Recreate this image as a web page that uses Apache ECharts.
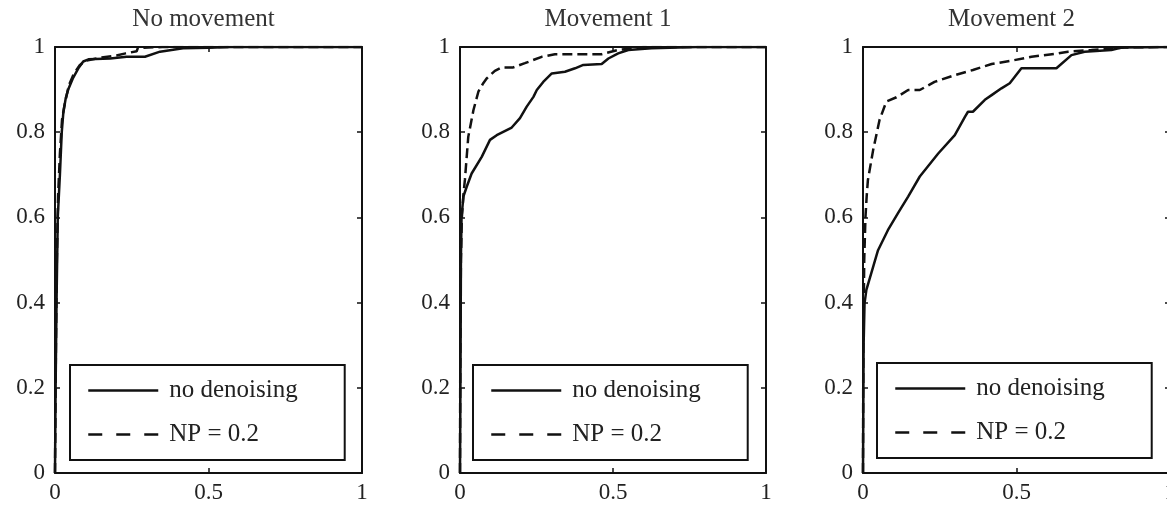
<!DOCTYPE html>
<html>
<head>
<meta charset="utf-8">
<title>ROC curves</title>
<script src="https://cdn.jsdelivr.net/npm/echarts@6/dist/echarts.min.js"></script>
<style>
  html, body { margin: 0; padding: 0; background: #fff; }
  #chart { width: 1167px; height: 508px; }
</style>
</head>
<body>
<div id="chart"></div>
<script>
// panel titles and legend names
var panelTitles = ['No movement', 'Movement 1', 'Movement 2'];
var seriesNames = ['no denoising', 'NP = 0.2'];
var xTicks = [0, 0.5, 1];
var yTicks = [0, 0.2, 0.4, 0.6, 0.8, 1];

// [false positive rate, true positive rate]
var noMoveRaw = [
    [0, 0], [0.002, 0.2], [0.005, 0.4], [0.009, 0.6], [0.016, 0.7], [0.022, 0.8],
    [0.027, 0.845], [0.035, 0.88], [0.043, 0.9], [0.058, 0.926], [0.076, 0.95],
    [0.092, 0.966], [0.109, 0.971], [0.18, 0.973], [0.233, 0.977], [0.293, 0.977],
    [0.342, 0.989], [0.417, 0.997], [0.5, 0.998], [0.57, 1], [1, 1]
];
var noMoveNP = [
    [0, 0], [0.003, 0.3], [0.006, 0.5], [0.01, 0.65], [0.016, 0.75], [0.023, 0.83],
    [0.03, 0.86], [0.045, 0.91], [0.06, 0.935], [0.08, 0.957], [0.1, 0.968],
    [0.15, 0.975], [0.2, 0.98], [0.23, 0.985], [0.266, 0.99], [0.27, 0.998],
    [0.35, 1], [1, 1]
];
var move1Raw = [
    [0, 0], [0.001, 0.15], [0.002, 0.3], [0.003, 0.5], [0.005, 0.6], [0.011, 0.649],
    [0.022, 0.672], [0.038, 0.703], [0.071, 0.742], [0.098, 0.782], [0.12, 0.793],
    [0.169, 0.811], [0.196, 0.833], [0.218, 0.86], [0.24, 0.883], [0.251, 0.899],
    [0.272, 0.918], [0.3, 0.938], [0.343, 0.942], [0.376, 0.95], [0.403, 0.958],
    [0.463, 0.96], [0.485, 0.973], [0.517, 0.985], [0.55, 0.993], [0.626, 0.997],
    [0.773, 1], [1, 1]
];
var move1NP = [
    [0, 0], [0.001, 0.3], [0.003, 0.5], [0.006, 0.6], [0.012, 0.66], [0.016, 0.688],
    [0.027, 0.789], [0.044, 0.852], [0.06, 0.895], [0.076, 0.915], [0.087, 0.926],
    [0.114, 0.944], [0.136, 0.952], [0.174, 0.952], [0.212, 0.962], [0.267, 0.977],
    [0.31, 0.983], [0.463, 0.983], [0.517, 0.993], [0.52, 0.997], [0.6, 1], [1, 1]
];
var move2Raw = [
    [0, 0], [0.002, 0.3], [0.005, 0.398], [0.011, 0.43], [0.033, 0.484], [0.049, 0.523],
    [0.081, 0.57], [0.114, 0.61], [0.147, 0.649], [0.185, 0.696], [0.245, 0.75],
    [0.299, 0.793], [0.332, 0.836], [0.342, 0.848], [0.358, 0.848], [0.397, 0.876],
    [0.419, 0.887], [0.451, 0.903], [0.478, 0.915], [0.516, 0.95], [0.63, 0.95],
    [0.679, 0.981], [0.722, 0.989], [0.809, 0.993], [0.842, 0.999], [1, 1]
];
var move2NP = [
    [0, 0], [0.001, 0.3], [0.004, 0.5], [0.008, 0.6], [0.012, 0.65], [0.016, 0.688],
    [0.033, 0.758], [0.054, 0.829], [0.076, 0.872], [0.109, 0.882], [0.147, 0.899],
    [0.185, 0.899], [0.233, 0.918], [0.299, 0.934], [0.358, 0.946], [0.419, 0.96],
    [0.484, 0.968], [0.549, 0.977], [0.636, 0.985], [0.668, 0.989], [0.744, 0.993],
    [0.853, 0.999], [1, 1]
];

var panelData = [[noMoveRaw, noMoveNP], [move1Raw, move1NP], [move2Raw, move2NP]];

var font = 'Liberation Serif';
var ink = '#111';

// plot boxes, in pixels
var gridBoxes = [
    { left: 55, top: 47, width: 307, height: 426 },
    { left: 460, top: 47, width: 306, height: 426 },
    { left: 863, top: 47, width: 307, height: 426 }
];
var legendBoxes = [
    { left: 70, top: 365 },
    { left: 473, top: 365 },
    { left: 877, top: 363 }
];

var chart = echarts.init(document.getElementById('chart'));

function axisBase(pos, gridIndex, interval, showLabel) {
    return {
        type: 'value',
        gridIndex: gridIndex,
        position: pos,
        min: 0,
        max: 1,
        interval: interval,
        axisLine: { show: true, onZero: false, lineStyle: { color: ink, width: 2 } },
        axisTick: { show: true, inside: true, length: 5, lineStyle: { color: ink, width: 1.5 } },
        splitLine: { show: false },
        axisLabel: {
            show: showLabel,
            fontFamily: font,
            fontSize: 23,
            color: '#222',
            margin: pos === 'left' ? 10 : 8,
            formatter: function (v) { return String(v); }
        }
    };
}

var opt = {
    animation: false,
    backgroundColor: '#fff',
    title: [],
    grid: [],
    xAxis: [],
    yAxis: [],
    legend: [],
    series: []
};

for (var i = 0; i < 3; i++) {
    var gb = gridBoxes[i];
    opt.grid.push({
        left: gb.left, top: gb.top, width: gb.width, height: gb.height,
        containLabel: false,
        outerBoundsMode: 'none'
    });

    // titles sit a little left of the box centre in the original
    opt.title.push({
        text: panelTitles[i],
        left: gb.left + gb.width / 2 - 5,
        top: 7,
        textAlign: 'center',
        padding: 0,
        textStyle: { fontFamily: font, fontSize: 25, fontWeight: 'normal', color: '#333' }
    });

    opt.xAxis.push(axisBase('bottom', i, 0.5, true));
    opt.xAxis.push(axisBase('top', i, 0.5, false));
    opt.yAxis.push(axisBase('left', i, 0.2, true));
    opt.yAxis.push(axisBase('right', i, 0.2, false));

    opt.series.push({
        name: seriesNames[0],
        type: 'line',
        xAxisIndex: 2 * i,
        yAxisIndex: 2 * i,
        symbol: 'none',
        data: panelData[i][0],
        lineStyle: { color: ink, width: 2.5 },
        itemStyle: { color: ink },
        z: 3
    });
    opt.series.push({
        name: seriesNames[1],
        type: 'line',
        xAxisIndex: 2 * i,
        yAxisIndex: 2 * i,
        symbol: 'none',
        data: panelData[i][1],
        lineStyle: { color: ink, width: 2.5, type: [10, 5] },
        itemStyle: { color: ink },
        z: 4
    });

    opt.legend.push({
        left: legendBoxes[i].left,
        top: legendBoxes[i].top,
        orient: 'vertical',
        selectedMode: false,
        data: [
            { name: seriesNames[0] },
            { name: seriesNames[1], lineStyle: { type: [14, 14] } }
        ],
        itemWidth: 70,
        itemHeight: 14,
        itemGap: 19,
        padding: [13, 47, 13, 17],
        backgroundColor: '#fff',
        borderColor: ink,
        borderWidth: 2,
        borderRadius: 0,
        itemStyle: { opacity: 0 },
        lineStyle: { width: 2.5 },
        textStyle: { fontFamily: font, fontSize: 25, color: '#222', padding: [0, 0, 0, 6] }
    });
}

chart.setOption(opt);
</script>
</body>
</html>
